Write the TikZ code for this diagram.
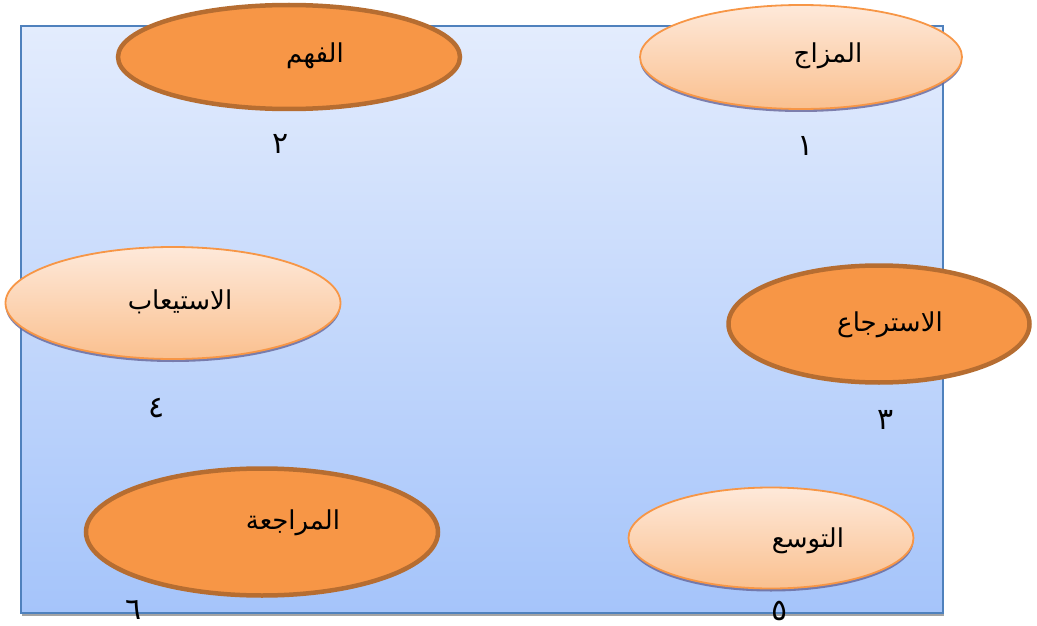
\documentclass[tikz,border=0pt]{standalone}
\usepackage{fontspec}
\newfontfamily\arabicfont[Script=Arabic]{DejaVu Sans}
\TeXXeTstate=1
\usetikzlibrary{shapes.geometric,shadows}
\definecolor{boxtop}{HTML}{E3ECFD}
\definecolor{boxbot}{HTML}{A5C4FA}
\definecolor{boxborder}{HTML}{4F81BD}
\definecolor{darkfill}{HTML}{F79646}
\definecolor{darkborder}{HTML}{B66D31}
\definecolor{lighttop}{HTML}{FEE9DA}
\definecolor{lightbot}{HTML}{FAC08F}
\definecolor{lightborder}{HTML}{F79646}
\tikzset{
  darkell/.style={ellipse, draw=darkborder, line width=4.5pt, fill=darkfill, inner sep=0pt},
  lightell/.style={ellipse, draw=lightborder, line width=1.8pt, top color=lighttop, bottom color=lightbot, inner sep=0pt,
    drop shadow={shadow xshift=0pt, shadow yshift=-3pt, fill=gray!80!blue, opacity=0.8}},
  word/.style={font=\arabicfont\fontsize{26}{30}\selectfont, text=black, inner sep=0pt},
  num/.style={font=\arabicfont\fontsize{30}{34}\selectfont, text=black, inner sep=0pt}
}
\begin{document}
\begin{tikzpicture}[x=1pt,y=-1pt]
\useasboundingbox (0,0) rectangle (1037,626);
% background box
\node[name=box, draw=boxborder, line width=2pt, top color=boxtop, bottom color=boxbot, rectangle, inner sep=0pt,
  minimum width=922pt, minimum height=586pt,
  drop shadow={shadow xshift=1pt, shadow yshift=-3pt, fill=gray!80, opacity=0.9}] at (481.5,319.5) {};
% ellipses
\node[darkell, minimum width=342pt, minimum height=104pt, name=e2] at (289,57) {};
\node[lightell, minimum width=322pt, minimum height=104pt, name=e1] at (801,57) {};
\node[lightell, minimum width=335pt, minimum height=112pt, name=e4] at (173,303) {};
\node[darkell, minimum width=301pt, minimum height=117pt, name=e3] at (879,324) {};
\node[darkell, minimum width=352pt, minimum height=127pt, name=e6] at (262,532) {};
\node[lightell, minimum width=285pt, minimum height=101pt, name=e5] at (771,538) {};
% words
\node[word, name=w2] at (315,56) {\beginR الفهم\endR};
\node[word, name=w1] at (828,56) {\beginR المزاج\endR};
\node[word, name=w4] at (180,302) {\beginR الاستيعاب\endR};
\node[word, name=w3] at (890,325) {\beginR الاسترجاع\endR};
\node[word, name=w6] at (293,523) {\beginR المراجعة\endR};
\node[word, name=w5] at (808,541) {\beginR التوسع\endR};
% numbers
\node[num, name=n2] at (281,144) {٢};
\node[num, name=n1] at (806,146) {١};
\node[num, name=n4] at (157,408) {٤};
\node[num, name=n3] at (886,420) {٣};
\node[num, name=n6] at (134,610) {٦};
\node[num, name=n5] at (780,611) {٥};
\end{tikzpicture}
\end{document}
